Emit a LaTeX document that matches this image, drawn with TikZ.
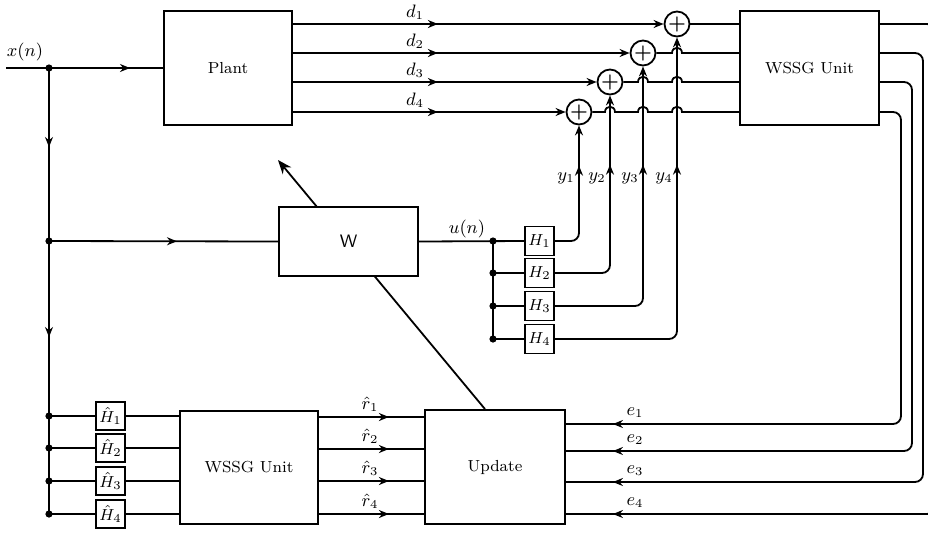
\documentclass[tikz,border=0pt]{standalone}
\usetikzlibrary{positioning,arrows.meta,decorations.markings,calc}
\usepackage{amsmath,amssymb}

\begin{document}
\begin{tikzpicture}[x=0.5pt, y=-0.5pt, line width=0.9pt,
  blk/.style={draw, fill=white, inner sep=0pt, font=\footnotesize},
  hbox/.style={draw, inner sep=0pt, minimum width=14.5pt, minimum height=14.5pt, font=\footnotesize},
  sumnode/.style={draw, circle, inner sep=0pt, minimum size=12.5pt, font=\normalsize\bfseries},
  lbl/.style={font=\small, inner sep=1pt},
  endarr/.style={-{Stealth[length=5pt,width=4pt]}},
  arrat/.style={postaction={decorate, decoration={markings,
    mark=at position #1 with {\arrow{Stealth[length=5pt,width=4pt]}}}}}]
\useasboundingbox (0,0) rectangle (928,532);

% blocks
\node[blk, minimum width=64pt, minimum height=57pt] (plant) at (228,68) {Plant};
\node[blk, minimum width=69.5pt, minimum height=57pt] (wssgA) at (809.5,68) {WSSG Unit};
\node[blk, minimum width=69pt, minimum height=56.5pt] (wssgB) at (249,467.5) {WSSG Unit};
\node[blk, minimum width=70pt, minimum height=57pt] (update) at (495,467) {Update};

% adaptation arrow, W box goes on top of it
\coordinate (wtip) at (278,160);
\draw[-{Stealth[length=7pt,width=5.5pt]}] ([xshift=-5pt]update.north) -- (wtip);
\node[blk, minimum width=69.5pt, minimum height=34.5pt, font=\small\sffamily] (w) at (348.5,241.5) {W};

% sums
\foreach \i/\x/\y in {1/677/24, 2/643/53, 3/610/82, 4/579/112}
  \node[sumnode] (s\i) at (\x,\y) {+};

% filters
\foreach \k/\y in {1/241, 2/273, 3/306, 4/339}
  \node[hbox] (h\k) at (539.5,\y) {$H_\k$};
\foreach \k/\y in {1/416, 2/448, 3/481, 4/514}{
  \node[hbox, minimum height=14pt] (hh\k) at (110.5,\y) {$\hat{H}_\k$};
  \coordinate (jb\k) at (49,\y);
}

% input and left bus
\coordinate (xin) at (6,68);
\coordinate (jx) at (49,68);
\coordinate (jw) at (49,241);
\node[lbl] (xlab) at (25,52) {$x(n)$};
\draw[arrat=62pt] (xin) -- (plant.west);
\draw[arrat=39.5pt, arrat=134.5pt] (jx) -- (jb4);
\draw[arrat=64pt] (jw) -- (w.west);

% u(n) to the filters
\coordinate (ju) at (493,241);
\node[lbl] (ulab) at (467,229) {$u(n)$};
\draw (w.east) -- (h1.west);
\draw (ju) -- (ju |- h4);
\foreach \k in {2,3,4}
  \draw (ju |- h\k) -- (h\k.west);

% d lines
\foreach \i/\y in {1/24, 2/53, 3/82, 4/112}{
  \draw[endarr, arrat=72.5pt] (plant.east |- s\i) -- (s\i.west);
  \node[lbl] (dlab\i) at (415,\y-12) {$d_\i$};
}

% y lines
\foreach \k/\j/\p in {1/4/48pt, 2/3/80pt, 3/2/113pt, 4/1/146.5pt}{
  \draw[endarr, rounded corners=4pt, arrat=\p] (h\k.east) -| (s\j.south);
  \node[lbl] (ylab\k) at ($(s\j |- 0,178)+(-13,0)$) {$y_\k$};
}

% sums to WSSG unit, hopping over the y lines
\draw (s1.east) -- (wssgA.west |- s1);
\foreach \i/\y/\cross in {2/53/{677}, 3/82/{643,677}, 4/112/{610,643,677}}
  \draw (s\i.east) \foreach \c in \cross {-- (\c-5,\y) .. controls (\c-5,\y-7) and (\c+5,\y-7) .. (\c+5,\y)} -- (wssgA.west |- s\i);

% errors back to update
\foreach \i/\vx/\ey/\k in {1/935/514/4, 2/923/482/3, 3/912/451/2, 4/901/424/1}{
  \draw[rounded corners=4pt, arrat=-23.5pt] (wssgA.east |- s\i) -| (\vx,\ey) -- (update.east |- 0,\ey);
  \node[lbl] (elab\k) at (635,\ey-11) {$e_\k$};
}

% lower branch
\foreach \k/\y in {1/417, 2/449, 3/481, 4/514}{
  \draw (jb\k) -- (hh\k.west);
  \draw (hh\k.east) -- (wssgB.west |- hh\k);
  \draw[arrat=35pt] (wssgB.east |- 0,\y) -- (update.west |- 0,\y);
  \node[lbl] (rlab\k) at (370,\y-13) {$\hat{r}_\k$};
}

% junction dots
\foreach \c in {jx, jw, jb1, jb2, jb3, jb4, ju}
  \fill (\c) circle (1.8pt);
\foreach \k in {2,3,4}
  \fill (ju |- h\k) circle (1.8pt);
\end{tikzpicture}
\end{document}
